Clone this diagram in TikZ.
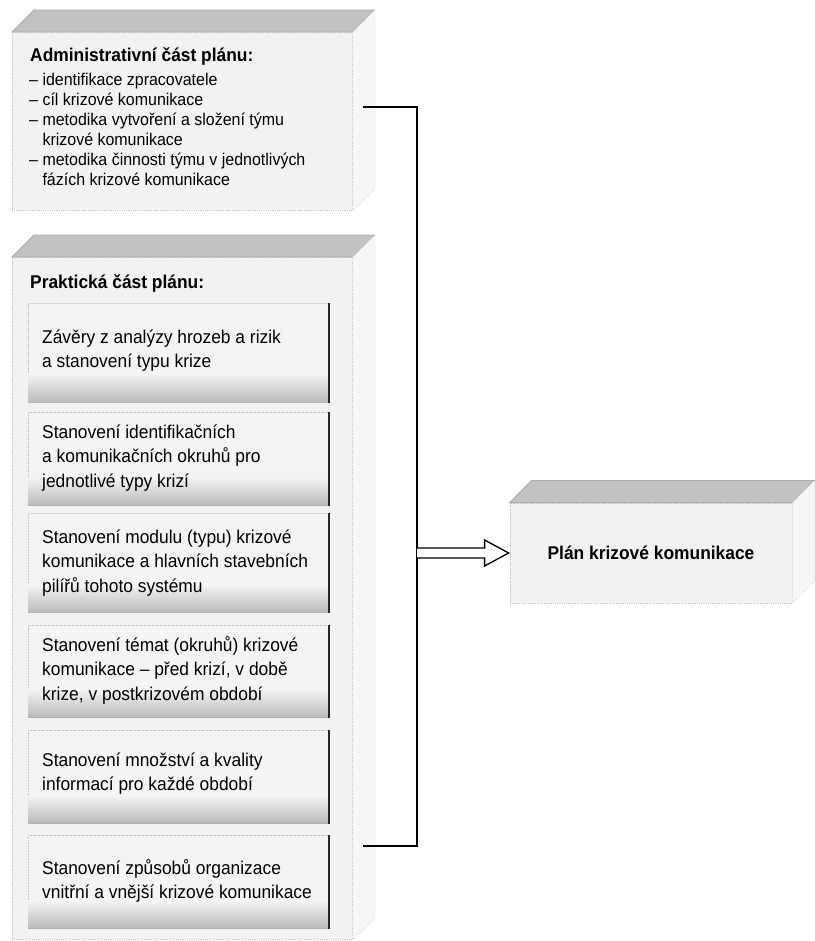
\documentclass[tikz,border=0pt]{standalone}
\usepackage{fontspec}
\setmainfont{Liberation Sans}[FakeStretch=0.94]
\usetikzlibrary{calc}
\begin{document}
\begin{tikzpicture}[x=1pt,y=-1pt,
  front/.style={fill=gray!10, draw=gray!45, densely dotted, line width=0.8pt, inner sep=0pt},
  topface/.style={fill=gray!48, draw=gray!65, line width=0.8pt},
  sideface/.style={fill=gray!6, draw=gray!35, densely dotted, line width=0.6pt},
  innerbox/.style={fill=gray!9, draw=gray!50, densely dotted, line width=0.6pt, anchor=north west, minimum width=300pt, inner sep=0pt},
  rightedge/.style={draw=black!85, line width=1.8pt},
  bottomedge/.style={draw=gray!60, line width=1pt},
  titlefont/.style={font=\fontsize{18.5}{22}\selectfont\bfseries},
  boxtxt/.style={font=\fontsize{18.5}{24.5}\selectfont, align=left, anchor=north west, inner sep=0pt},
  itemtxt/.style={font=\fontsize{17}{20}\selectfont, align=left, anchor=north west, inner sep=0pt},
  bracket/.style={draw=black, line width=1.8pt},
  hollowarrow/.style={draw=black, fill=white, line width=1.3pt, line join=miter}
]
\useasboundingbox (0,0) rectangle (814,941);
\fill[white] (0,0) rectangle (814,941);

% ---------- Administrative box ----------
\node[front, anchor=north west, minimum width=340pt, minimum height=178pt] (admin) at (12,32) {};
\draw[topface] (admin.north west) -- ++(22,-22) -- ($(admin.north east)+(22,-22)$) -- (admin.north east) -- cycle;
\draw[sideface] (admin.north east) -- ++(22,-22) -- ($(admin.south east)+(22,-22)$) -- (admin.south east) -- cycle;

\node[titlefont, anchor=north west, inner sep=0pt] (admintitle) at (30,43) {\rule{0pt}{18pt}Administrativní část plánu:};
\node[itemtxt] (adminitems) at (29,68) {\rule{0pt}{17pt}– identifikace zpracovatele\\
– cíl krizové komunikace\\
– metodika vytvoření a složení týmu\\
\hphantom{– }krizové komunikace\\
– metodika činnosti týmu v jednotlivých\\
\hphantom{– }fázích krizové komunikace};

% ---------- Practical box ----------
\node[front, anchor=north west, minimum width=340pt, minimum height=682pt] (prakt) at (12,257) {};
\draw[topface] (prakt.north west) -- ++(22,-22) -- ($(prakt.north east)+(22,-22)$) -- (prakt.north east) -- cycle;
\draw[sideface] (prakt.north east) -- ++(22,-22) -- ($(prakt.south east)+(22,-22)$) -- (prakt.south east) -- cycle;

\node[titlefont, anchor=north west, inner sep=0pt] (prakttitle) at (30,270) {\rule{0pt}{18pt}Praktická část plánu:};

% inner boxes
\node[innerbox, minimum height=99pt] (b1) at (28,303) {};
\node[innerbox, minimum height=93pt] (b2) at (28,412) {};
\node[innerbox, minimum height=99pt] (b3) at (28,513) {};
\node[innerbox, minimum height=92pt] (b4) at (28,625) {};
\node[innerbox, minimum height=93pt] (b5) at (28,730) {};
\node[innerbox, minimum height=93pt] (b6) at (28,835) {};
\foreach \b in {b1,b2,b3,b4,b5,b6}{
  \shade[top color=gray!9, bottom color=gray!55] ($(\b.south west)+(0,-28)$) rectangle (\b.south east);
  \draw[bottomedge] (\b.south west) -- (\b.south east);
  \draw[rightedge] (\b.north east) -- (\b.south east);
}

\node[boxtxt] (t1) at (42,325) {\rule{0pt}{18pt}Závěry z analýzy hrozeb a rizik\\a stanovení typu krize};
\node[boxtxt] (t2) at (42,420) {\rule{0pt}{18pt}Stanovení identifikačních\\a komunikačních okruhů pro\\jednotlivé typy krizí};
\node[boxtxt] (t3) at (42,525) {\rule{0pt}{18pt}Stanovení modulu (typu) krizové\\komunikace a hlavních stavebních\\pilířů tohoto systému};
\node[boxtxt] (t4) at (42,633) {\rule{0pt}{18pt}Stanovení témat (okruhů) krizové\\komunikace – před krizí, v době\\krize, v postkrizovém období};
\node[boxtxt] (t5) at (42,748) {\rule{0pt}{18pt}Stanovení množství a kvality\\informací pro každé období};
\node[boxtxt] (t6) at (42,856) {\rule{0pt}{18pt}Stanovení způsobů organizace\\vnitřní a vnější krizové komunikace};

% ---------- Result box ----------
\node[front, minimum width=282pt, minimum height=100pt, titlefont] (plan) at (651,553) {Plán krizové komunikace};
\draw[topface] (plan.north west) -- ++(22,-22) -- ($(plan.north east)+(22,-22)$) -- (plan.north east) -- cycle;
\draw[sideface] (plan.north east) -- ++(22,-22) -- ($(plan.south east)+(22,-22)$) -- (plan.south east) -- cycle;

% ---------- Bracket and arrow ----------
\coordinate (bt) at (363,107);
\coordinate (bb) at (363,846);
\coordinate (bx) at (417,553);
\draw[bracket] (bt) -- (bt -| bx) -- (bb -| bx) -- (bb);
\coordinate (tail) at (bx |- plan.west);
\coordinate (tip) at ($(plan.west)+(-1,0)$);
\draw[hollowarrow] ($(tail)+(0,-5)$) -- ($(tip)+(-24,-5)$) -- ($(tip)+(-24,-13)$) -- (tip) -- ($(tip)+(-24,13)$) -- ($(tip)+(-24,5)$) -- ($(tail)+(0,5)$);
\end{tikzpicture}
\end{document}
